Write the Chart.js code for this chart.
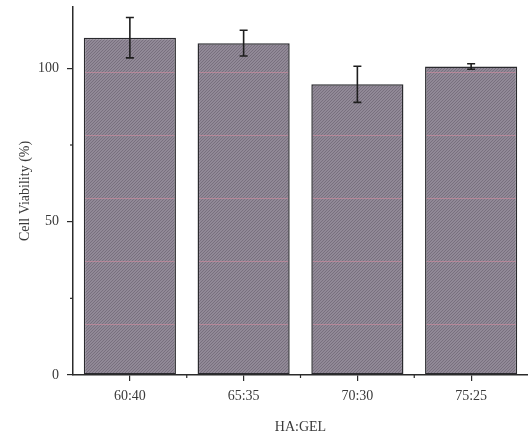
<!DOCTYPE html>
<html>
<head>
<meta charset="utf-8">
<script src="https://cdn.jsdelivr.net/npm/chart.js@4"></script>
<style>
  html, body { margin: 0; padding: 0; background: #fff; }
  #wrap { width: 528px; height: 434px; }
</style>
</head>
<body>
<div id="wrap"><canvas id="myChart" width="528" height="434"></canvas></div>
<script>
// values
const categories = ['60:40', '65:35', '70:30', '75:25'];
const viability = [110.0, 108.2, 94.8, 100.6];
const errors = [6.6, 4.2, 5.9, 0.9];
const yTicks = [0, 50, 100];
const yMinorTicks = [25, 75];

const ink = '#2b2b2b';
const serif = 'Liberation Serif, Times New Roman, serif';

// scanned-looking hatch fill with the faint pink stripes
function makeHatch() {
    const size = 63;
    const c = document.createElement('canvas');
    c.width = size;
    c.height = size;
    const g = c.getContext('2d');
    g.fillStyle = '#918997';
    g.fillRect(0, 0, size, size);
    g.strokeStyle = 'rgba(95, 88, 102, 0.5)';
    g.lineWidth = 1;
    for (let x = -size; x <= size; x += 3) {
        g.beginPath();
        g.moveTo(x, size);
        g.lineTo(x + size, 0);
        g.stroke();
    }
    g.fillStyle = 'rgba(210, 140, 160, 0.6)';
    g.fillRect(0, 9, size, 1);
    return g.createPattern(c, 'repeat');
}

const ctx = document.getElementById('myChart').getContext('2d');

// error bars + minor ticks, placed with the chart's own scales
const extras = {
    id: 'extras',
    afterDatasetsDraw(chart) {
        const x = chart.scales.x, y = chart.scales.y;
        const g = chart.ctx;
        g.save();
        g.strokeStyle = '#1e1e1e';
        g.lineWidth = 1.6;
        viability.forEach((v, i) => {
            const px = x.getPixelForValue(i);
            const top = y.getPixelForValue(v + errors[i]);
            const bot = y.getPixelForValue(v - errors[i]);
            g.beginPath();
            g.moveTo(px, top); g.lineTo(px, bot);
            g.moveTo(px - 4, top); g.lineTo(px + 4, top);
            g.moveTo(px - 4, bot); g.lineTo(px + 4, bot);
            g.stroke();
        });
        g.strokeStyle = ink;
        g.lineWidth = 1.2;
        yMinorTicks.forEach(v => {
            const py = y.getPixelForValue(v);
            g.beginPath();
            g.moveTo(y.right, py); g.lineTo(y.right - 3, py);
            g.stroke();
        });
        for (let i = 0; i < categories.length - 1; i++) {
            const px = (x.getPixelForValue(i) + x.getPixelForValue(i + 1)) / 2;
            g.beginPath();
            g.moveTo(px, x.top); g.lineTo(px, x.top + 3);
            g.stroke();
        }
        g.restore();
    }
};

const myChart = new Chart(ctx, {
    type: 'bar',
    data: {
        labels: categories,
        datasets: [{
            data: viability,
            backgroundColor: makeHatch(),
            borderColor: '#2a2a2e',
            borderWidth: 1.5,
            borderSkipped: false,
            categoryPercentage: 0.81,
            barPercentage: 1
        }]
    },
    options: {
        responsive: false,
        animation: false,
        layout: { padding: { top: 7, right: -1, left: 0, bottom: 0 } },
        scales: {
            x: {
                offset: true,
                grid: {
                    display: true,
                    offset: false,
                    drawOnChartArea: false,
                    tickLength: 6,
                    color: ink,
                    lineWidth: 1.2
                },
                border: { display: true, color: ink, width: 1.5 },
                ticks: {
                    color: '#3a3a3a',
                    padding: 7,
                    font: { family: serif, size: 14 }
                },
                title: {
                    display: true,
                    text: 'HA:GEL',
                    color: '#3a3a3a',
                    padding: { top: 7, bottom: -1.5 },
                    font: { family: serif, size: 14 }
                },
                afterFit(scale) { scale.height = 59; }
            },
            y: {
                min: 0,
                max: 120,
                afterBuildTicks(scale) {
                    scale.ticks = yTicks.map(v => ({ value: v }));
                },
                grid: {
                    display: true,
                    drawOnChartArea: false,
                    tickLength: 6,
                    color: ink,
                    lineWidth: 1.2
                },
                border: { display: true, color: ink, width: 1.5 },
                ticks: {
                    color: '#3a3a3a',
                    padding: 8,
                    font: { family: serif, size: 14 }
                },
                title: {
                    display: true,
                    text: 'Cell Viability (%)',
                    color: '#3a3a3a',
                    padding: { top: 17, bottom: 0 },
                    font: { family: serif, size: 14 }
                },
                afterFit(scale) {
                    scale.width = 73;
                    scale.paddingTop = 0;
                    scale.paddingBottom = 0;
                }
            }
        },
        plugins: {
            legend: { display: false },
            tooltip: { enabled: false }
        }
    },
    plugins: [extras]
});
</script>
</body>
</html>
